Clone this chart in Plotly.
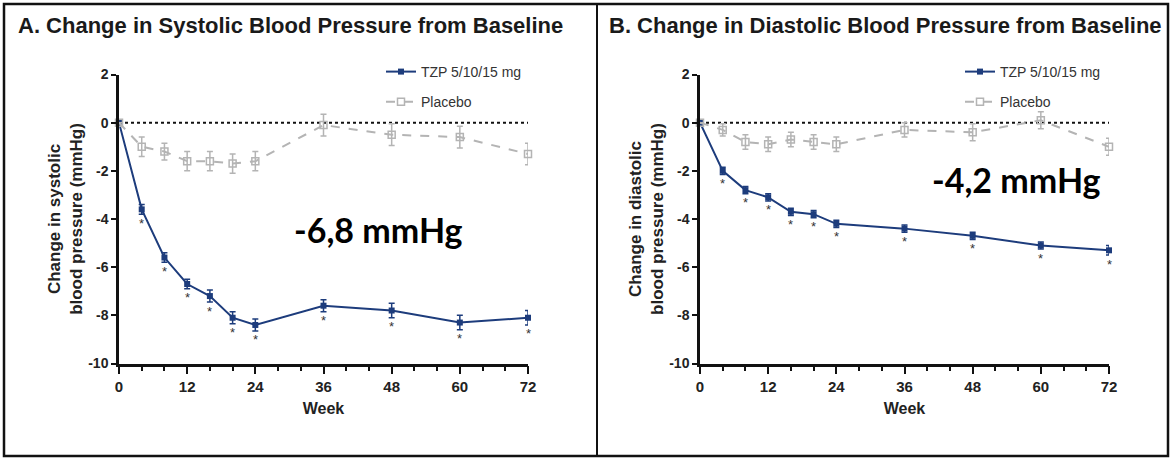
import plotly.graph_objects as go

# ---------------- data ----------------
weeks = [0, 4, 8, 12, 16, 20, 24, 36, 48, 60, 72]

sys_tzp = [0, -3.6, -5.6, -6.7, -7.2, -8.1, -8.4, -7.6, -7.8, -8.3, -8.1]
sys_tzp_err = [0, 0.2, 0.2, 0.2, 0.25, 0.25, 0.25, 0.25, 0.3, 0.3, 0.3]
sys_pbo = [0, -1.0, -1.2, -1.6, -1.6, -1.7, -1.6, -0.1, -0.5, -0.6, -1.3]
sys_pbo_err = [0, 0.4, 0.35, 0.4, 0.4, 0.4, 0.4, 0.45, 0.45, 0.45, 0.45]

dia_tzp = [0, -2.0, -2.8, -3.1, -3.7, -3.8, -4.2, -4.4, -4.7, -5.1, -5.3]
dia_tzp_err = [0, 0.15, 0.15, 0.15, 0.15, 0.15, 0.15, 0.15, 0.15, 0.15, 0.2]
dia_pbo = [0, -0.3, -0.8, -0.9, -0.7, -0.8, -0.9, -0.3, -0.4, 0.1, -1.0]
dia_pbo_err = [0, 0.25, 0.3, 0.3, 0.3, 0.3, 0.3, 0.3, 0.35, 0.35, 0.35]

star_weeks = [4, 8, 12, 16, 20, 24, 36, 48, 60, 72]

x_ticks = [0, 12, 24, 36, 48, 60, 72]
y_ticks = [-10, -8, -6, -4, -2, 0, 2]
y_tick_labels = ["-10", "-8", "-6", "-4", "-2", "0", "2"]

titles = ["A. Change in Systolic Blood Pressure from Baseline",
          "B. Change in Diastolic Blood Pressure from Baseline"]
y_titles = ["Change in systolic<br>blood pressure (mmHg)",
            "Change in diastolic<br>blood pressure (mmHg)"]
big_labels = ["-6,8 mmHg", "-4,2 mmHg"]
series_names = ["TZP 5/10/15 mg", "Placebo"]

# ---------------- style ----------------
W, H = 1171, 460
NAVY = "#1d3c7c"
GRAY = "#b4b4b4"
FONT = "Liberation Sans"


def px_x(p):
    return p / W


def px_y(p):
    return 1 - p / H


fig = go.Figure()

panels = [
    dict(tzp=sys_tzp, tzp_err=sys_tzp_err, pbo=sys_pbo, pbo_err=sys_pbo_err,
         xa="x", ya="y", legend="legend"),
    dict(tzp=dia_tzp, tzp_err=dia_tzp_err, pbo=dia_pbo, pbo_err=dia_pbo_err,
         xa="x2", ya="y2", legend="legend2"),
]

annotations = []
for i, p in enumerate(panels):
    # zero reference line
    fig.add_trace(go.Scatter(
        x=[weeks[0], weeks[-1]], y=[0, 0], mode="lines",
        line=dict(color="#111111", width=2, dash="dot"),
        showlegend=False, hoverinfo="skip", xaxis=p["xa"], yaxis=p["ya"]))
    # TZP
    fig.add_trace(go.Scatter(
        x=weeks, y=p["tzp"], mode="lines+markers", name=series_names[0],
        line=dict(color=NAVY, width=2),
        marker=dict(symbol="square", size=6, color=NAVY),
        error_y=dict(type="data", array=p["tzp_err"], color=NAVY,
                     thickness=1.5, width=3),
        cliponaxis=False, legend=p["legend"], legendgroup="tzp%d" % i,
        xaxis=p["xa"], yaxis=p["ya"]))
    # Placebo
    fig.add_trace(go.Scatter(
        x=weeks, y=p["pbo"], mode="lines+markers", name=series_names[1],
        line=dict(color=GRAY, width=2, dash="dash"),
        marker=dict(symbol="square-open", size=7, color=GRAY,
                    line=dict(width=1.5, color=GRAY)),
        error_y=dict(type="data", array=p["pbo_err"], color=GRAY,
                     thickness=1.5, width=3),
        cliponaxis=False, legend=p["legend"], legendgroup="pbo%d" % i,
        xaxis=p["xa"], yaxis=p["ya"]))
    # significance asterisks
    for wk in star_weeks:
        idx = weeks.index(wk)
        annotations.append(dict(
            x=wk, y=p["tzp"][idx] - p["tzp_err"][idx], xref=p["xa"], yref=p["ya"],
            text="*", showarrow=False, yshift=-9,
            font=dict(family=FONT, size=13, color="#333333")))

axis_common = dict(
    showline=True, linecolor="#111111", linewidth=2.5, mirror=False,
    ticks="outside", tickcolor="#111111", tickwidth=2,
    showgrid=False, zeroline=False, automargin=False,
)

x_domains = [[px_x(119), px_x(528)], [px_x(700), px_x(1109)]]
y_domain = [px_y(363.5), px_y(74.5)]

layout_axes = {}
for i in range(2):
    sx = "xaxis" if i == 0 else "xaxis2"
    sy = "yaxis" if i == 0 else "yaxis2"
    layout_axes[sx] = dict(
        axis_common, domain=x_domains[i], range=[0, 72],
        tickvals=x_ticks, anchor="y" if i == 0 else "y2", ticklen=8,
        tickfont=dict(family=FONT, size=15, color="#222222", weight="bold"),
        minor=dict(dtick=4, tick0=0, ticks="outside", ticklen=5,
                   tickwidth=2, tickcolor="#111111"),
        title=dict(text="Week", standoff=9,
                   font=dict(family=FONT, size=16, color="#222222", weight="bold")))
    layout_axes[sy] = dict(
        axis_common, domain=y_domain, range=[-10, 2],
        tickvals=y_ticks, ticktext=y_tick_labels,
        anchor="x" if i == 0 else "x2", ticklen=5,
        tickfont=dict(family=FONT, size=14, color="#222222", weight="bold"),
        title=dict(text=y_titles[i], standoff=2,
                   font=dict(family=FONT, size=17, color="#222222", weight="bold")))

# panel titles
for i, xpx in enumerate([16, 607]):
    annotations.append(dict(
        x=px_x(xpx), y=px_y(25), xref="paper", yref="paper",
        xanchor="left", yanchor="middle", showarrow=False, text=titles[i],
        font=dict(family=FONT, size=22, color="#1a1a1a", weight="bold")))

# big effect labels
for i, (cx, cy) in enumerate([(378, 229), (1016, 180)]):
    annotations.append(dict(
        x=px_x(cx), y=px_y(cy), xref="paper", yref="paper",
        xanchor="center", yanchor="middle", showarrow=False, text=big_labels[i],
        font=dict(family="Lato", size=34, color="#000000", weight="bold")))

legend_common = dict(
    bgcolor="rgba(0,0,0,0)", borderwidth=0, tracegroupgap=9,
    font=dict(family=FONT, size=14, color="#333333"),
    xanchor="left", yanchor="top", itemwidth=30,
)

shapes = [
    dict(type="rect", xref="paper", yref="paper",
         x0=px_x(4), x1=px_x(1168), y0=px_y(456), y1=px_y(4),
         line=dict(color="#111111", width=2.5)),
    dict(type="line", xref="paper", yref="paper",
         x0=px_x(597), x1=px_x(597), y0=px_y(456), y1=px_y(4),
         line=dict(color="#111111", width=2)),
]

fig.update_layout(
    template="none",
    width=W, height=H,
    margin=dict(l=0, r=0, t=0, b=0, pad=0),
    paper_bgcolor="white", plot_bgcolor="white",
    showlegend=True,
    legend=dict(legend_common, x=px_x(381), y=px_y(56)),
    legend2=dict(legend_common, x=px_x(960), y=px_y(56)),
    annotations=annotations,
    shapes=shapes,
    **layout_axes,
)

fig.write_html("out.html")
